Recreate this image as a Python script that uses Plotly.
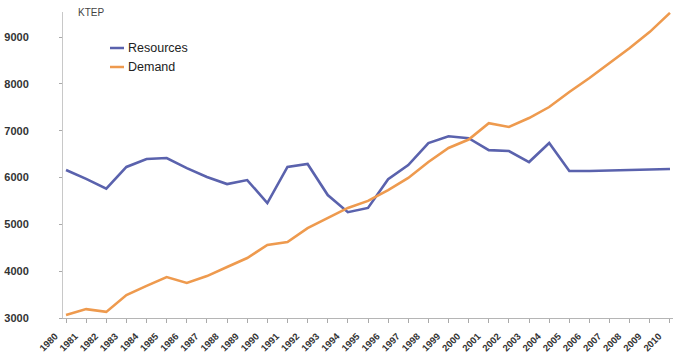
import plotly.graph_objects as go

years = list(range(1980, 2011))
resources = [6160, 5970, 5760, 6225, 6395, 6415, 6200, 6010, 5860, 5945,
             5455, 6225, 6290, 5625, 5260, 5350, 5965, 6265, 6735, 6880,
             6840, 6585, 6565, 6330, 6735, 6140, 6140, 6150, 6160, 6170, 6180]
demand = [3065, 3190, 3130, 3490, 3685, 3875, 3750, 3895, 4090, 4280,
          4560, 4620, 4920, 5135, 5350, 5500, 5730, 5990, 6330, 6630,
          6810, 7160, 7080, 7270, 7505, 7825, 8125, 8445, 8765, 9110, 9515]
series_names = ["Resources", "Demand"]
y_ticks = [3000, 4000, 5000, 6000, 7000, 8000, 9000]
unit_label = "KTEP"

BLUE = "#5a62ad"
ORANGE = "#ee9a4e"
FONT = "Liberation Sans, Arial, sans-serif"

fig = go.Figure()
fig.add_trace(go.Scatter(x=years, y=resources, mode="lines", name=series_names[0],
                         line=dict(color=BLUE, width=2.6), showlegend=False))
fig.add_trace(go.Scatter(x=years, y=demand, mode="lines", name=series_names[1],
                         line=dict(color=ORANGE, width=2.6), showlegend=False))

W, H = 677, 356
ml, mr, mt, mb = 63, 4, 12, 38
pw, ph = W - ml - mr, H - mt - mb

def px(x):
    return (x - ml) / pw

def py(y):
    return (H - mb - y) / ph

# custom legend (short line symbols)
for name, col, yy in [(series_names[0], BLUE, 48), (series_names[1], ORANGE, 67)]:
    fig.add_shape(type="line", xref="paper", yref="paper",
                  x0=px(110), x1=px(124), y0=py(yy), y1=py(yy),
                  line=dict(color=col, width=2.5))
    fig.add_annotation(xref="paper", yref="paper", x=px(126), y=py(yy),
                       text=name, showarrow=False, xanchor="left", yanchor="middle",
                       font=dict(family=FONT, size=12.5, color="#222"))

fig.add_annotation(xref="paper", yref="paper", x=px(76), y=py(13),
                   text=unit_label, showarrow=False, xanchor="left", yanchor="middle",
                   font=dict(family=FONT, size=10, color="#444"))

fig.update_layout(
    width=W, height=H,
    margin=dict(l=ml, r=mr, t=mt, b=mb),
    paper_bgcolor="white", plot_bgcolor="white",
    font=dict(family=FONT, color="#333"),
    xaxis=dict(
        range=[1979.85, 2010.15], automargin=False,
        tickmode="array", tickvals=years, ticktext=[str(y) for y in years],
        tickangle=-45, ticks="outside", ticklen=4, tickcolor="#aaa",
        ticklabelshift=-11, ticklabelstandoff=4,
        showline=True, linecolor="#b5b5b5", linewidth=1,
        showgrid=False, zeroline=False,
        tickfont=dict(family=FONT, size=9.5, color="#333", weight="bold"),
    ),
    yaxis=dict(
        range=[3000, 9534], automargin=False,
        tickmode="array", tickvals=y_ticks, ticktext=[str(v) for v in y_ticks],
        ticks="outside", ticklen=3, tickcolor="#aaa",
        ticklabelstandoff=28,
        showline=True, linecolor="#c8c8c8", linewidth=1,
        showgrid=False, zeroline=False,
        tickfont=dict(family=FONT, size=11, color="#333", weight="bold"),
    ),
)

fig.write_html("out.html", config={"displayModeBar": False},
               post_script="document.body.style.margin='0';document.body.style.overflow='hidden';")
